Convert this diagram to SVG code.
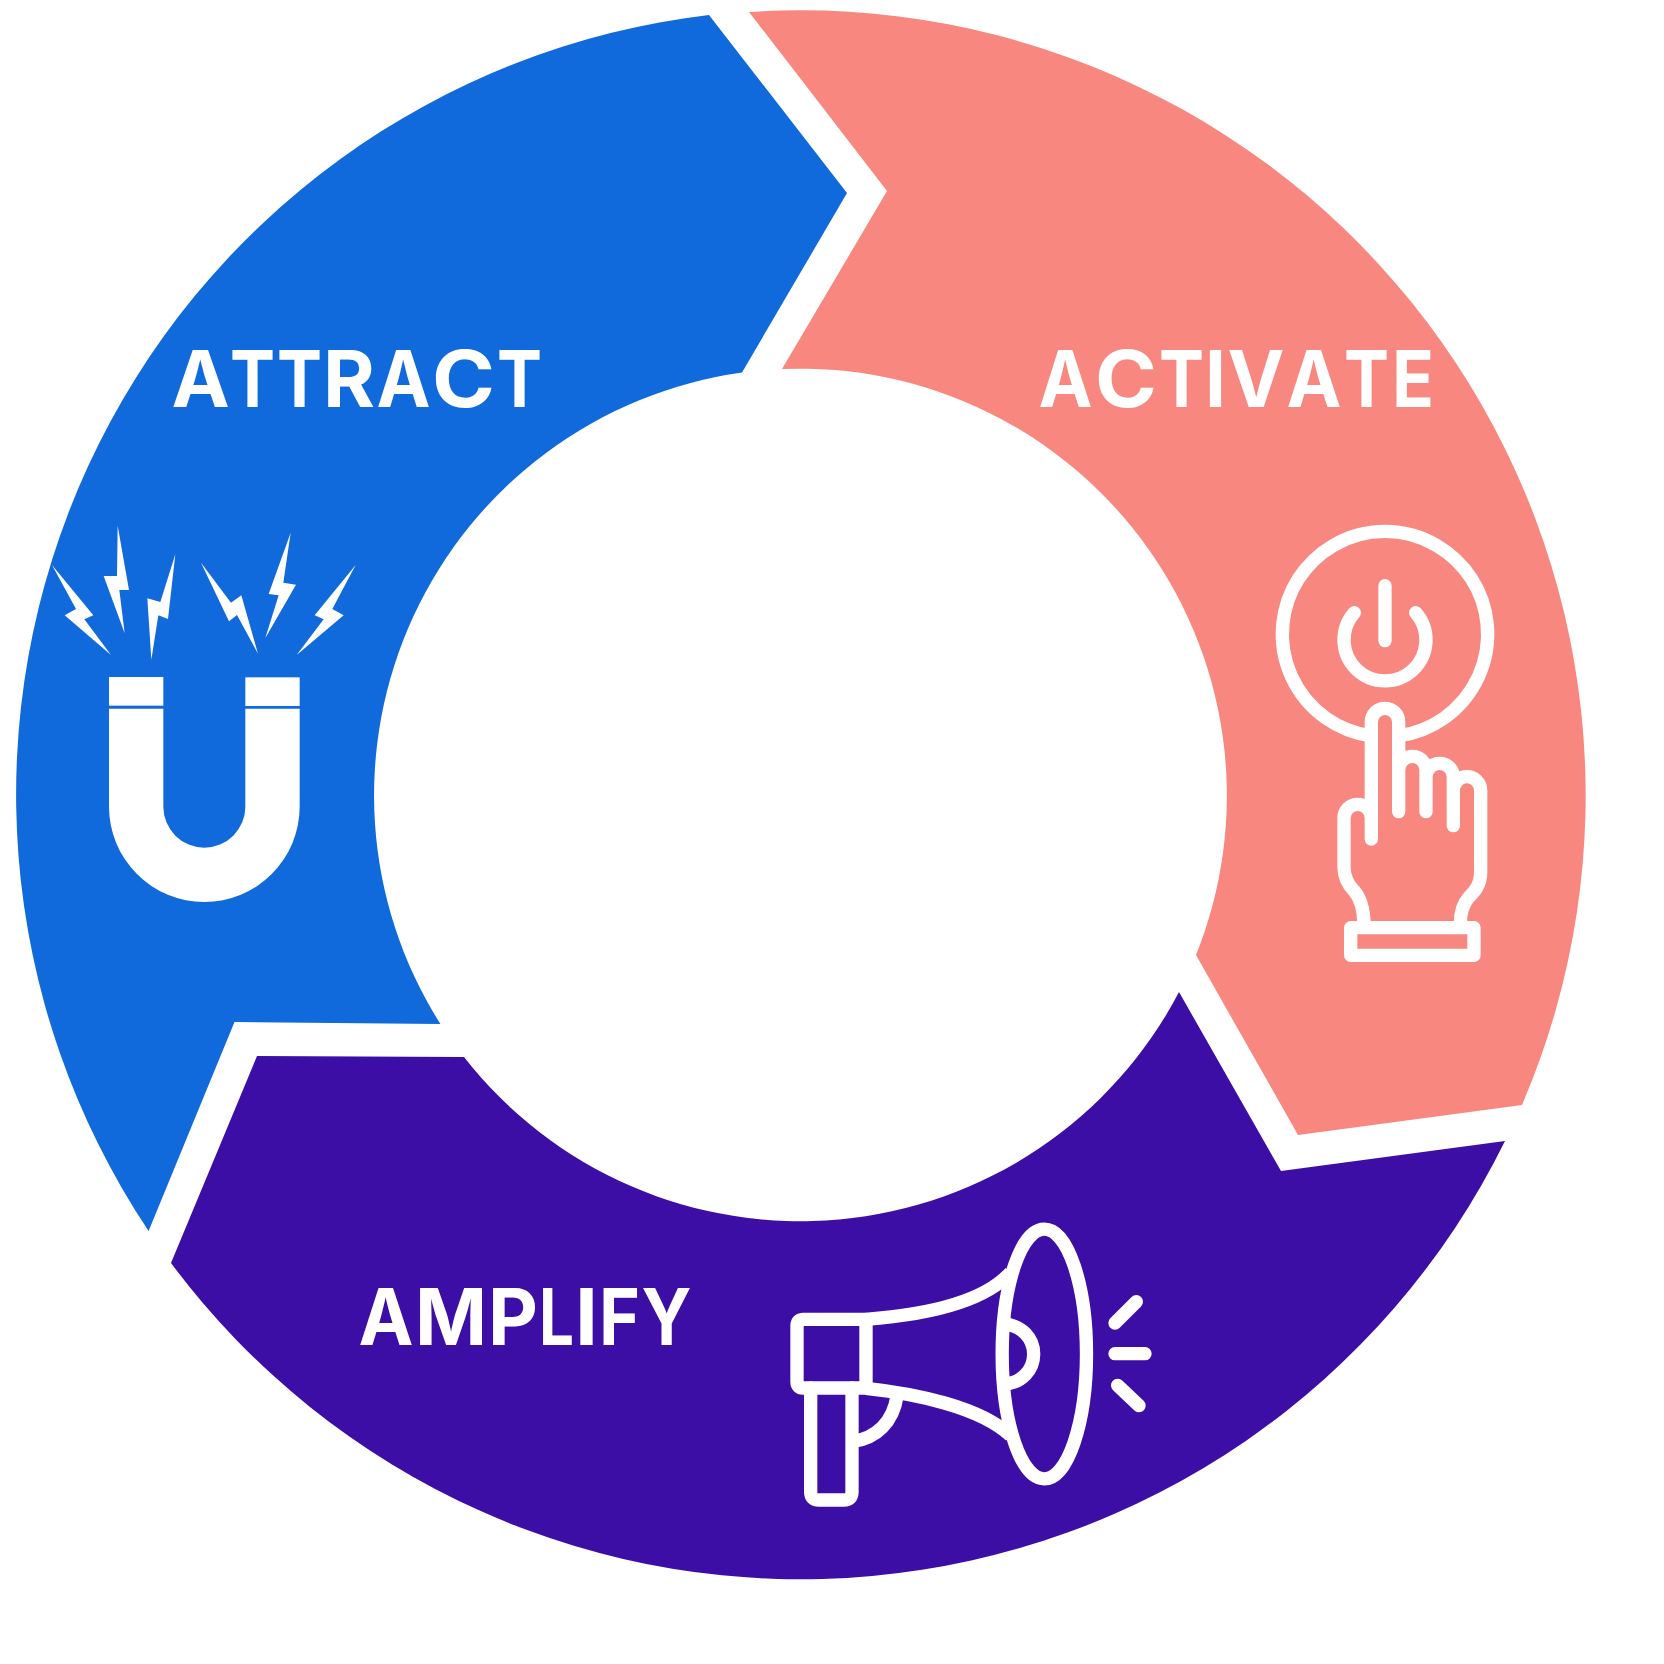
<svg xmlns="http://www.w3.org/2000/svg" width="1664" height="1664" viewBox="0 0 1664 1664">
<style>
.lbl{font-family:"Inter","Liberation Sans",sans-serif;font-weight:700;font-size:78px;fill:#fff}
.ln{fill:none;stroke:#fff;stroke-width:40;stroke-linecap:round;stroke-linejoin:round}
.bt{stroke-linecap:butt}
.wh{fill:#fff}
</style>
<rect width="1664" height="1664" fill="#fff"/>
<g id="attract">
<path fill="#116ADB" d="M709 15L847 193L742 372.500A427 427 0 0 0 440.400 1024L234.500 1022L148.600 1231A785 785 0 0 1 709 15Z"/>
<text class="lbl" y="407"><tspan x="171.500">A</tspan><tspan x="230" textLength="45" lengthAdjust="spacingAndGlyphs">T</tspan><tspan x="277" textLength="45" lengthAdjust="spacingAndGlyphs">T</tspan><tspan x="323" textLength="52" lengthAdjust="spacingAndGlyphs">R</tspan><tspan x="376.500" textLength="54" lengthAdjust="spacingAndGlyphs">A</tspan><tspan x="432" textLength="63" lengthAdjust="spacingAndGlyphs">C</tspan><tspan x="497" textLength="45" lengthAdjust="spacingAndGlyphs">T</tspan></text>
<g transform="translate(30 510) scale(.33333)" class="wh">
<polygon points="66,165 190,316 163,328 243,435 104,316 138,297"/>
<polygon points="263,47 297,240 268,240 284,370 221,198 261,198"/>
<polygon points="436,133 414,327 385,316 364,449 352,265 391,276"/>
<polygon points="513,158 603,278 634,256 684,431 621,315 597,334"/>
<polygon points="782,68 760,218 798,224 706,384 746,256 716,252"/>
<polygon points="977,165 907,297 941,316 800,435 881,328 854,316"/>
<rect x="237" y="501" width="163" height="86"/>
<rect x="646" y="502" width="163" height="86"/>
<path d="M237 596H400V890A122.500 122.500 0 0 0 646 890V596H809V890A286 286 0 0 1 237 890Z"/>
</g>
</g>
<g id="activate">
<path fill="#F88780" d="M749 12L887 191L782 369A427 427 0 0 1 1196 955L1298 1135L1522 1105A785 785 0 0 0 749 12Z"/>
<text class="lbl" y="407"><tspan x="1038.500" textLength="54" lengthAdjust="spacingAndGlyphs">A</tspan><tspan x="1095" textLength="62" lengthAdjust="spacingAndGlyphs">C</tspan><tspan x="1159" textLength="45" lengthAdjust="spacingAndGlyphs">T</tspan><tspan x="1205" textLength="21" lengthAdjust="spacingAndGlyphs">I</tspan><tspan x="1227.500" textLength="57" lengthAdjust="spacingAndGlyphs">V</tspan><tspan x="1286.500" textLength="55" lengthAdjust="spacingAndGlyphs">A</tspan><tspan x="1344" textLength="45" lengthAdjust="spacingAndGlyphs">T</tspan><tspan x="1392" textLength="42" lengthAdjust="spacingAndGlyphs">E</tspan></text>
<g transform="translate(1260 510) scale(.33333)">
<path class="ln bt" d="M330 677A308 308 0 1 1 420 677"/>
<path class="ln" d="M375 227V392M283 308A123 123 0 1 0 467 308"/>
<path class="ln" d="M334 987V636A41 41 0 0 1 416 636V905M416 780A41 41 0 0 1 498 780V905M498 801A41 41 0 0 1 580 801V947M580 841A41 41 0 0 1 662 841V1085C662 1125 645 1143 628 1160C610 1180 601 1205 601 1240M334 924A41 41 0 0 0 252 924V1070C252 1105 265 1125 282 1142C302 1165 311 1200 312 1240"/>
<rect class="ln" x="272" y="1253" width="370" height="83"/>
</g>
</g>
<g id="amplify">
<path fill="#3C0EA5" d="M1179 992L1281 1171L1505 1141A785 785 0 0 1 171 1263L257 1056L464 1057A427 427 0 0 0 1179 992Z"/>
<text class="lbl" y="1344.500"><tspan x="358.500" textLength="55" lengthAdjust="spacingAndGlyphs">A</tspan><tspan x="415" textLength="72" lengthAdjust="spacingAndGlyphs">M</tspan><tspan x="488" textLength="50" lengthAdjust="spacingAndGlyphs">P</tspan><tspan x="539" textLength="35" lengthAdjust="spacingAndGlyphs">L</tspan><tspan x="575" textLength="23" lengthAdjust="spacingAndGlyphs">I</tspan><tspan x="599" textLength="41" lengthAdjust="spacingAndGlyphs">F</tspan><tspan x="641.500" textLength="50" lengthAdjust="spacingAndGlyphs">Y</tspan></text>
<g transform="translate(770 1210) scale(.33333)">
<ellipse class="ln" cx="823" cy="432" rx="126.500" ry="374.500"/>
<path class="ln" d="M288 328H100Q81 328 81 347V515Q81 534 100 534H288Z"/>
<path class="ln" d="M122 534V845Q122 870 147 870H221Q246 870 246 845V534"/>
<path class="ln bt" d="M288 328C420 318 630 290 722 187M288 535C430 550 630 590 722 677"/>
<path class="ln bt" d="M700 342C755 345 791 385 791 432C791 480 755 520 700 522M381 558C370 635 320 685 246 695"/>
<path class="ln" d="M1035 339L1099 275M1035 431H1125M1043 526L1107 587"/>
</g>
</g>
</svg>
